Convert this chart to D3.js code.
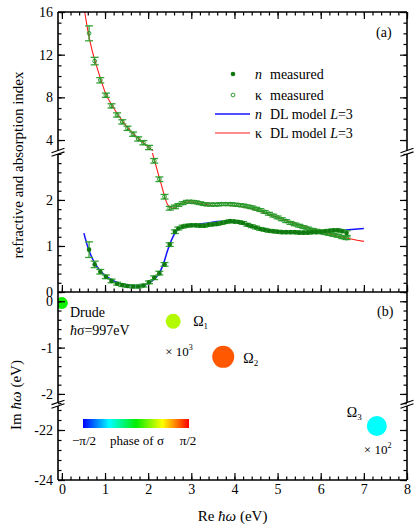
<!DOCTYPE html>
<meta charset="utf-8">
<style>
body { margin: 0; background: #fff; }
text { font-family: "Liberation Serif", "DejaVu Serif", serif; fill: #000; }
</style>
<body>
<script src="https://d3js.org/d3.v7.min.js"></script>
<script>

// measured optical constants (photon energy in eV)
var energy = [0.63, 0.76, 0.89, 1.02, 1.15, 1.28, 1.40, 1.52, 1.65, 1.77, 1.89, 2.02, 2.14, 2.26, 2.38, 2.50, 2.62,
  2.7, 2.8, 2.9, 3.0, 3.1, 3.2, 3.3, 3.4, 3.5, 3.6, 3.7, 3.8, 3.9, 4.0, 4.1, 4.2, 4.3, 4.4, 4.5, 4.6, 4.7, 4.8,
  4.9, 5.0, 5.1, 5.2, 5.3, 5.4, 5.5, 5.6, 5.7, 5.8, 5.9, 6.0, 6.1, 6.2, 6.3, 6.4, 6.5, 6.6];
var nMeasured = [0.92, 0.60, 0.44, 0.33, 0.24, 0.18, 0.15, 0.13, 0.12, 0.12, 0.14, 0.21, 0.31, 0.41, 0.60, 1.03, 1.31,
  1.38, 1.42, 1.44, 1.45, 1.45, 1.44, 1.44, 1.46, 1.47, 1.48, 1.50, 1.52, 1.54, 1.53, 1.52, 1.50, 1.46, 1.43, 1.40, 1.37, 1.35, 1.33,
  1.32, 1.31, 1.30, 1.30, 1.30, 1.30, 1.29, 1.29, 1.29, 1.30, 1.30, 1.31, 1.32, 1.33, 1.34, 1.34, 1.32, 1.28];
var nError = [0.17, 0.07, 0.05, 0.04, 0.04, 0.03, 0.03, 0.03, 0.03, 0.03, 0.03, 0.03, 0.04, 0.04, 0.04, 0.04, 0.04,
  0.03, 0.03, 0.03, 0.03, 0.03, 0.03, 0.03, 0.03, 0.03, 0.03, 0.03, 0.03, 0.03, 0.03, 0.03, 0.03, 0.03, 0.03, 0.03, 0.03, 0.03, 0.03,
  0.03, 0.03, 0.03, 0.03, 0.03, 0.03, 0.03, 0.03, 0.03, 0.03, 0.03, 0.03, 0.03, 0.03, 0.03, 0.03, 0.03, 0.05];
var kMeasured = [14.0, 11.4, 9.6, 8.2, 7.2, 6.35, 5.7, 5.1, 4.55, 4.1, 3.75, 3.3, 2.85, 2.45, 2.07, 1.82, 1.85,
  1.89, 1.93, 1.96, 1.96, 1.95, 1.93, 1.91, 1.90, 1.90, 1.90, 1.91, 1.91, 1.91, 1.90, 1.89, 1.88, 1.86, 1.84, 1.81, 1.78, 1.74, 1.70,
  1.66, 1.62, 1.58, 1.54, 1.50, 1.47, 1.44, 1.41, 1.38, 1.35, 1.33, 1.30, 1.28, 1.26, 1.24, 1.22, 1.19, 1.17];
var kError = [0.7, 0.35, 0.25, 0.2, 0.2, 0.2, 0.2, 0.2, 0.2, 0.2, 0.2, 0.2, 0.05, 0.05, 0.05, 0.04, 0.04,
  0.03, 0.03, 0.03, 0.03, 0.03, 0.03, 0.03, 0.03, 0.03, 0.03, 0.03, 0.03, 0.03, 0.03, 0.03, 0.03, 0.03, 0.03, 0.03, 0.03, 0.03, 0.03,
  0.03, 0.03, 0.03, 0.03, 0.03, 0.03, 0.03, 0.03, 0.03, 0.03, 0.03, 0.03, 0.03, 0.03, 0.03, 0.03, 0.03, 0.03];

// Drude-Lorentz model, L=3
var modelNEnergy = [0.51, 0.6, 0.7, 0.8, 0.9, 1.0, 1.2, 1.4, 1.6, 1.8, 1.95, 2.1, 2.25, 2.35, 2.45, 2.55, 2.65, 2.8,
  3.0, 3.3, 3.6, 3.8, 4.0, 4.3, 4.6, 5.0, 5.5, 6.0, 6.5, 7.0];
var modelN = [1.28, 0.98, 0.74, 0.57, 0.45, 0.36, 0.24, 0.17, 0.14, 0.13, 0.16, 0.25, 0.40, 0.60, 0.90, 1.15, 1.32, 1.42,
  1.46, 1.49, 1.53, 1.54, 1.52, 1.45, 1.38, 1.32, 1.29, 1.30, 1.34, 1.38];
var modelKEnergy = [0.53, 0.6, 0.7, 0.8, 0.9, 1.0, 1.2, 1.4, 1.6, 1.8, 2.0, 2.15, 2.3, 2.45, 2.55, 2.65, 2.8, 2.95,
  3.2, 3.5, 3.8, 4.2, 4.5, 5.0, 5.5, 6.0, 6.5, 7.0];
var modelK = [16, 14.3, 12.4, 11.0, 9.7, 8.5, 7.0, 5.8, 4.8, 4.05, 3.35, 2.85, 2.35, 1.9, 1.82, 1.85, 1.93, 1.96,
  1.92, 1.88, 1.88, 1.85, 1.78, 1.62, 1.46, 1.31, 1.19, 1.10];

// poles of the model in the complex plane
var poleNames = ["Drude", "Ω1", "Ω2", "Ω3"];
var poleRe = [0, 2.58, 3.74, 7.30];
var poleIm = [-0.04, -0.43, -1.2, -21.84];
var polePhase = [0.05, 0.55, 1.3, -0.78];
var poleWeight = [0.36, 0.56, 1.21, 1.0];

var xTicks = [0, 1, 2, 3, 4, 5, 6, 7, 8];
var yTicksLow = [0, 1, 2];
var yTicksUp = [4, 8, 12, 16];
var imTicksUp = [0, -1, -2];
var imTicksLow = [-22, -24];

var width = 415, height = 527;
var x0 = 58, x1 = 407, yTop = 12, yMid = 292, yBot = 480;

var svg = d3.select("body").append("svg")
    .attr("width", width)
    .attr("height", height);

var x = d3.scaleLinear().domain([-0.09, 8]).range([x0, x1]);
var yLow = d3.scaleLinear().domain([0, 3.02]).range([yMid, 153]);
var yUp = d3.scaleLinear().domain([3, 16]).range([150.7, yTop]);
var imUp = d3.scaleLinear().domain([-2.2, 0.2]).range([403.2, yMid]);
var imLow = d3.scaleLinear().domain([-24, -20.96]).range([yBot, 404]);

function yA(v) { return v >= 3 ? yUp(v) : yLow(v); }
function imB(v) { return v >= -2.2 ? imUp(v) : imLow(v); }

var phaseColor = d3.scaleLinear()
    .domain([-Math.PI / 2, -Math.PI / 4, 0, Math.PI / 4, Math.PI / 2])
    .range(["#0000ff", "#00ffff", "#00ee00", "#ffff00", "#ff0000"]);

// clip regions
var defs = svg.append("defs");
function clip(id, y, h) {
  defs.append("clipPath").attr("id", id)
    .append("rect").attr("x", x0).attr("y", y).attr("width", x1 - x0).attr("height", h);
}
clip("clipUp", yTop, 150.7 - yTop);
clip("clipLow", 153, yMid - 153);
clip("clipB", yMid, yBot - yMid);

// ---- panel (a) ----
var line = d3.line().curve(d3.curveMonotoneX);
var nLine = modelNEnergy.map(function(e, i) { return [x(e), yLow(modelN[i])]; });
svg.append("path").attr("clip-path", "url(#clipLow)")
    .attr("d", line(nLine)).attr("fill", "none").attr("stroke", "#1414ff").attr("stroke-width", 1.5);

[["clipUp", yUp], ["clipLow", yLow]].forEach(function(s) {
  svg.append("path").attr("clip-path", "url(#" + s[0] + ")")
      .attr("d", line(modelKEnergy.map(function(e, i) { return [x(e), s[1](modelK[i])]; })))
      .attr("fill", "none").attr("stroke", "#ff1a1a").attr("stroke-width", 1.1);
});

function errorBars(vals, errs) {
  var g = svg.append("g").attr("stroke", "#35a335").attr("stroke-width", 1.3);
  energy.forEach(function(e, i) {
    var cx = x(e), ya = yA(vals[i] - errs[i]), yb = yA(vals[i] + errs[i]);
    g.append("line").attr("x1", cx).attr("x2", cx).attr("y1", ya).attr("y2", yb);
    g.append("line").attr("x1", cx - 4).attr("x2", cx + 4).attr("y1", ya).attr("y2", ya);
    g.append("line").attr("x1", cx - 4).attr("x2", cx + 4).attr("y1", yb).attr("y2", yb);
  });
}
errorBars(kMeasured, kError);
errorBars(nMeasured, nError);

svg.append("g").selectAll("circle").data(energy).join("circle")
    .attr("cx", function(e) { return x(e); })
    .attr("cy", function(e, i) { return yA(kMeasured[i]); })
    .attr("r", 1.9).attr("fill", "none").attr("stroke", "#1f8f1f").attr("stroke-width", 0.9);
svg.append("g").selectAll("circle").data(energy).join("circle")
    .attr("cx", function(e) { return x(e); })
    .attr("cy", function(e, i) { return yLow(nMeasured[i]); })
    .attr("r", 2.3).attr("fill", "#107a10");

// ---- panel (b) ----
var r = d3.scaleSqrt().domain([0, 1]).range([0, 10]);
svg.append("g").attr("clip-path", "url(#clipB)").selectAll("circle").data(poleNames).join("circle")
    .attr("cx", function(d, i) { return x(poleRe[i]); })
    .attr("cy", function(d, i) { return imB(poleIm[i]); })
    .attr("r", function(d, i) { return r(poleWeight[i]); })
    .attr("fill", function(d, i) { return phaseColor(polePhase[i]); });

// ---- axes ----
function tickAxis(axis, scale, at, major, minor, labels, fmt) {
  var g = svg.append("g").attr("transform", at);
  g.append("g").call(axis(scale).tickValues(minor).tickSize(-3.5).tickFormat(""));
  g.append("g").call(axis(scale).tickValues(major).tickSize(-7).tickPadding(5)
      .tickFormat(labels ? (fmt || d3.format("d")) : ""));
  g.selectAll(".domain").remove();
  g.selectAll("line").attr("stroke-width", 1.2);
  g.selectAll("text").attr("font-size", 14).attr("font-family", "Liberation Serif, serif");
  return g;
}
var dash = function(d) { return String(d).replace("\u2212", "-"); };

var xMinor = d3.range(0, 8.01, 0.2);
var gx = tickAxis(d3.axisBottom, x, "translate(0," + yBot + ")", xTicks, xMinor, true);
gx.selectAll("text").attr("dy", "0.95em").attr("y", 1);
tickAxis(d3.axisBottom, x, "translate(0," + yMid + ")", xTicks, xMinor, false);
tickAxis(d3.axisTop, x, "translate(0," + yTop + ")", xTicks, xMinor, false);

var lowMinor = d3.range(0, 3.01, 0.2), upMinor = d3.range(4, 16.01, 1);
var imMinorUp = d3.range(0.2, -2.21, -0.2), imMinorLow = d3.range(-24, -21.1, 0.4);
[[d3.axisLeft, x0, true], [d3.axisRight, x1, false]].forEach(function(s) {
  var at = "translate(" + s[1] + ",0)";
  tickAxis(s[0], yLow, at, yTicksLow, lowMinor, s[2]);
  tickAxis(s[0], yUp, at, yTicksUp, upMinor, s[2]);
  tickAxis(s[0], imUp, at, imTicksUp, imMinorUp, s[2], dash);
  tickAxis(s[0], imLow, at, imTicksLow, imMinorLow, s[2], dash);
});

// frame with breaks
var frame = svg.append("g").attr("stroke", "#000").attr("stroke-width", 1.6).attr("fill", "none");
[yTop, yMid, yBot].forEach(function(h) {
  frame.append("line").attr("x1", x0).attr("x2", x1).attr("y1", h).attr("y2", h);
});
[x0, x1].forEach(function(xx) {
  [[yTop, 150.5], [154, yMid], [yMid, 402.5], [406, yBot]].forEach(function(v) {
    frame.append("line").attr("x1", xx).attr("x2", xx).attr("y1", v[0]).attr("y2", v[1]);
  });
  [152.3, 404.2].forEach(function(yb) {
    [-1.8, 1.8].forEach(function(o) {
      frame.append("line").attr("stroke-width", 1.2)
        .attr("x1", xx - 6.5).attr("y1", yb + o + 2.2)
        .attr("x2", xx + 6.5).attr("y2", yb + o - 2.2);
    });
  });
});

// ---- text ----
svg.append("text").attr("transform", "translate(23,165) rotate(-90)")
    .attr("text-anchor", "middle").attr("font-size", 15).text("refractive and absorption index");
var imLab = svg.append("text").attr("transform", "translate(21,395) rotate(-90)")
    .attr("text-anchor", "middle").attr("font-size", 15);
imLab.append("tspan").text("Im ");
imLab.append("tspan").attr("font-style", "italic").text("ħω");
imLab.append("tspan").text(" (eV)");
var reLab = svg.append("text").attr("x", (x0 + x1) / 2).attr("y", 521)
    .attr("text-anchor", "middle").attr("font-size", 15);
reLab.append("tspan").text("Re ");
reLab.append("tspan").attr("font-style", "italic").text("ħω");
reLab.append("tspan").text(" (eV)");

svg.append("text").attr("x", 376).attr("y", 37).attr("font-size", 14).text("(a)");
svg.append("text").attr("x", 377).attr("y", 316).attr("font-size", 14).text("(b)");

// legend
var legend = svg.append("g").attr("font-size", 14);
var rows = [74, 95, 114, 133];
legend.append("circle").attr("cx", 233).attr("cy", rows[0]).attr("r", 2.3).attr("fill", "#107a10");
legend.append("circle").attr("cx", 233).attr("cy", rows[1]).attr("r", 1.9).attr("fill", "none")
    .attr("stroke", "#1f8f1f").attr("stroke-width", 0.9);
legend.append("line").attr("x1", 215).attr("x2", 250).attr("y1", rows[2]).attr("y2", rows[2])
    .attr("stroke", "#1414ff").attr("stroke-width", 1.5);
legend.append("line").attr("x1", 215).attr("x2", 250).attr("y1", rows[3]).attr("y2", rows[3])
    .attr("stroke", "#ff1a1a").attr("stroke-width", 1.1);
var sym = ["n", "κ", "n", "κ"];
var desc = ["measured", "measured", "DL model ", "DL model "];
rows.forEach(function(ry, i) {
  legend.append("text").attr("x", 255).attr("y", ry + 5)
      .attr("font-style", sym[i] === "n" ? "italic" : "normal").text(sym[i]);
  var t = legend.append("text").attr("x", 270).attr("y", ry + 5).text(desc[i]);
  if (i > 1) {
    t.append("tspan").attr("font-style", "italic").text("L");
    t.append("tspan").text("=3");
  }
});

// pole labels
var pole = svg.append("g").attr("font-size", 14);
pole.append("text").attr("x", x(poleRe[0]) + 8).attr("y", 317).text("Drude");
var hs = pole.append("text").attr("x", x(poleRe[0]) + 8).attr("y", 335);
hs.append("tspan").attr("font-style", "italic").text("ħ");
hs.append("tspan").text("σ=997eV");
function omega(px, py, sub) {
  var t = pole.append("text").attr("x", px).attr("y", py).text("Ω");
  t.append("tspan").attr("font-size", 9).attr("dy", 3).text(sub);
}
omega(x(poleRe[1]) + 20, imB(poleIm[1]) + 5, "1");
omega(x(poleRe[2]) + 20, imB(poleIm[2]) + 6, "2");
omega(x(poleRe[3]) - 30, imB(poleIm[3]) - 9, "3");
function times(px, py, p) {
  var t = pole.append("text").attr("x", px).attr("y", py).attr("font-size", 13).text("× 10");
  t.append("tspan").attr("font-size", 8).attr("dy", -6).text(p);
}
times(x(poleRe[1]) - 8, imB(poleIm[1]) + 35, "3");
times(x(poleRe[3]) - 13, imB(poleIm[3]) + 28, "2");

// phase colour bar
var grad = defs.append("linearGradient").attr("id", "phase");
phaseColor.domain().forEach(function(d, i, a) {
  grad.append("stop").attr("offset", i / (a.length - 1)).attr("stop-color", phaseColor(d));
});
svg.append("rect").attr("x", 83).attr("y", 419).attr("width", 106).attr("height", 9)
    .attr("fill", "url(#phase)");
var cb = svg.append("g").attr("font-size", 13);
cb.append("text").attr("x", 84).attr("y", 445).attr("text-anchor", "middle").text("−π/2");
cb.append("text").attr("x", 110).attr("y", 445).text("phase of σ");
cb.append("text").attr("x", 188).attr("y", 445).attr("text-anchor", "middle").text("π/2");

</script>
